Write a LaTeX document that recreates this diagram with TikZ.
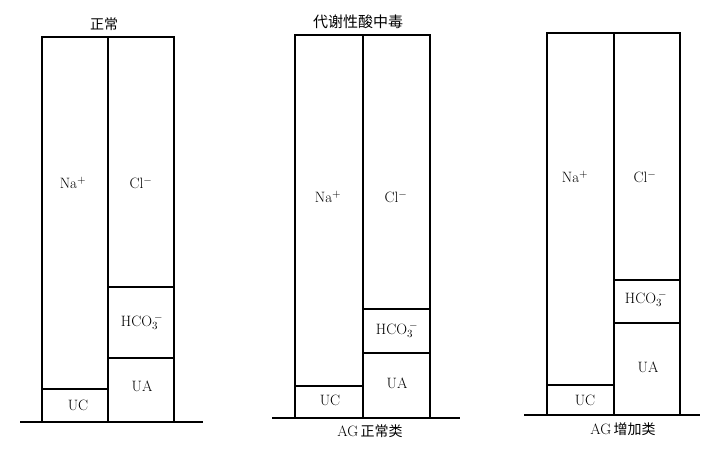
\documentclass[tikz,border=0pt]{standalone}
\usepackage{fontspec}
\newfontfamily\cjk{Noto Sans CJK SC}

\begin{document}
\begin{tikzpicture}[x=1pt, y=-1pt, line width=1.2pt,
    ion/.style={font=\fontsize{15}{17}\selectfont, inner sep=0pt},
    title/.style={font=\cjk\fontsize{14}{16}\selectfont, inner sep=0pt}]

    \useasboundingbox (0, 0) rectangle (727, 458);

    % Normal
    \draw (42, 37) rectangle (174, 422); % Outer bar
    \draw (108, 37) -- (108, 422); % Cations | anions
    \draw (108, 287) -- (174, 287); % Top of HCO3
    \draw (108, 358) -- (174, 358); % Top of UA
    \draw (42, 389) -- (108, 389); % Top of UC
    \draw[line width=1.5pt] (20, 422) -- (203, 422); % Base line
    \node[title] (normal) at (104, 24) {正常};
    \node[ion] (na1) at (73, 183) {Na$^{+}$};
    \node[ion] (cl1) at (141, 183) {Cl$^{-}$};
    \node[ion] (hco1) at (142, 322) {HCO$_3^{\,-}$};
    \node[ion] (ua1) at (142, 386) {UA};
    \node[ion] (uc1) at (78, 405) {UC};

    % Metabolic acidosis, normal AG
    \draw (295, 35) rectangle (430, 418); % Outer bar
    \draw (363, 35) -- (363, 418); % Cations | anions
    \draw (363, 309) -- (430, 309); % Top of HCO3
    \draw (363, 353) -- (430, 353); % Top of UA
    \draw (295, 386) -- (363, 386); % Top of UC
    \draw[line width=1.5pt] (272, 418) -- (460, 418); % Base line
    \node[title, font=\cjk\fontsize{15}{17}\selectfont] (acid) at (358, 22) {代谢性酸中毒};
    \node[ion] (na2) at (328, 197) {Na$^{+}$};
    \node[ion] (cl2) at (396, 197) {Cl$^{-}$};
    \node[ion] (hco2) at (397, 330) {HCO$_3^{\,-}$};
    \node[ion] (ua2) at (397, 383) {UA};
    \node[ion] (uc2) at (330, 400) {UC};
    \node[ion] (agn) at (370, 431) {AG\,{\cjk\fontsize{14}{16}\selectfont 正常类}};

    % Metabolic acidosis, increased AG
    \draw (547, 33) rectangle (680, 415); % Outer bar
    \draw (614, 33) -- (614, 415); % Cations | anions
    \draw (614, 280) -- (680, 280); % Top of HCO3
    \draw (614, 323) -- (680, 323); % Top of UA
    \draw (547, 385) -- (614, 385); % Top of UC
    \draw[line width=1.5pt] (524, 415) -- (700, 415); % Base line
    \node[ion] (na3) at (575, 177) {Na$^{+}$};
    \node[ion] (cl3) at (645, 177) {Cl$^{-}$};
    \node[ion] (hco3) at (646, 299) {HCO$_3^{\,-}$};
    \node[ion] (ua3) at (648, 367) {UA};
    \node[ion] (uc3) at (585, 400) {UC};
    \node[ion] (agi) at (623, 429) {AG\,{\cjk\fontsize{14}{16}\selectfont 增加类}};

\end{tikzpicture}
\end{document}
